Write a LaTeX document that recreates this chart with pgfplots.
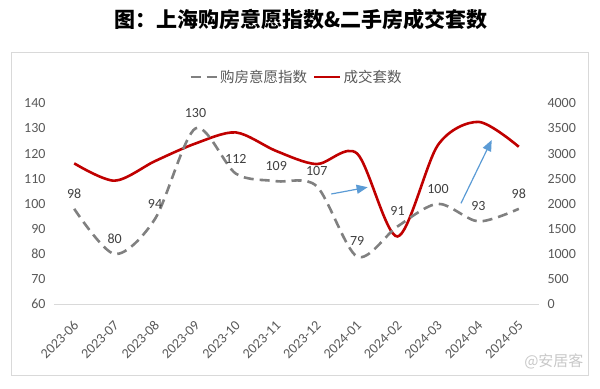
\documentclass[border=0pt]{standalone}
\usepackage{fontspec}
\setmainfont{Carlito}
\newfontfamily\cjk{Noto Sans CJK SC}
\usepackage{pgfplots}
\pgfplotsset{compat=1.18}
\usetikzlibrary{arrows.meta}
\definecolor{cred}{HTML}{C00000}
\definecolor{cgray}{HTML}{808080}
\definecolor{ctick}{HTML}{595959}
\definecolor{clabel}{HTML}{404040}
\definecolor{cgrid}{HTML}{D9D9D9}
\definecolor{cbox}{HTML}{D9D9D9}
\definecolor{carrow}{HTML}{5B9BD5}
\definecolor{cwm}{HTML}{C8C8C8}
\begin{document}
\begin{tikzpicture}
\useasboundingbox (-54bp,-84.7bp) rectangle (546bp,304.3bp);
\draw[cbox, line width=1bp] (-42.3bp,-70.7bp) rectangle (534bp,251.3bp);
\node[font=\cjk\bfseries\fontsize{21bp}{25bp}\selectfont, text=black] at (247bp,284.3bp) {图：上海购房意愿指数\&二手房成交套数};
\node[font=\cjk\fontsize{15bp}{17bp}\selectfont, text=cwm, anchor=east] at (533bp,-56.7bp) {@安居客};

\begin{axis}[
  scale only axis, width=485bp, height=201bp, at={(0,0)}, anchor=south west,
  xmin=-0.5, xmax=11.5, ymin=0, ymax=4000,
  axis y line*=right, axis x line=none,
  y axis line style={draw=none},
  ytick={0,500,...,4000},
  major tick length=0pt,
  yticklabel style={font=\fontsize{14bp}{16bp}\selectfont, text=ctick, xshift=5bp},
  /pgf/number format/assume math mode=true,
  /pgf/number format/set thousands separator={},
]
\addplot[cred, line width=2.6bp, smooth] coordinates {
(0,2805) (1,2460) (2,2850) (3,3200) (4,3420) (5,3050) (6,2790) (7,3000) (8,1350) (9,3170) (10,3630) (11,3135)
};
\end{axis}

\begin{axis}[
  scale only axis, width=485bp, height=201bp, at={(0,0)}, anchor=south west,
  xmin=-0.5, xmax=11.5, ymin=60, ymax=140,
  axis y line*=left, axis x line*=bottom,
  y axis line style={draw=none},
  x axis line style={cgrid, line width=1bp, -},
  ytick={60,70,...,140},
  xtick={0,...,11},
  xticklabels={2023-06,2023-07,2023-08,2023-09,2023-10,2023-11,2023-12,2024-01,2024-02,2024-03,2024-04,2024-05},
  major tick length=0pt,
  yticklabel style={font=\fontsize{14bp}{16bp}\selectfont, text=ctick, xshift=-5bp},
  xticklabel style={font=\fontsize{14bp}{16bp}\selectfont, text=ctick, yshift=-19bp, xshift=2bp, rotate=45, anchor=east, inner sep=0pt},
  /pgf/number format/assume math mode=true,
  legend style={at={(0.5,1.131)}, anchor=center, draw=none, fill=none, legend columns=2,
    font=\cjk\fontsize{14.5bp}{17bp}\selectfont, text=ctick,
    /tikz/every even column/.append style={column sep=4bp}},
  legend image code/.code={\draw[#1] (0bp,0bp) -- (26bp,0bp);},
]
\addplot[cgray, line width=2.6bp, dash pattern=on 10bp off 6bp, smooth,
  nodes near coords,
  every node near coord/.append style={font=\fontsize{14bp}{16bp}\selectfont, text=clabel, yshift=6bp, solid}]
  coordinates {
(0,98) (1,80) (2,94) (3,130) (4,112) (5,109) (6,107) (7,79) (8,91) (9,100) (10,93) (11,98)
};
\addlegendentry{购房意愿指数}
\addlegendimage{cred, line width=2.6bp}
\addlegendentry{成交套数}
\draw[carrow, line width=1.2bp, -{Triangle[length=11bp,width=9bp]}] (axis cs:6.36,103.9) -- (axis cs:7.26,106.6);
\draw[carrow, line width=1.2bp, -{Triangle[length=11bp,width=9bp]}] (axis cs:9.57,100.2) -- (axis cs:10.33,125.4);
\end{axis}
\end{tikzpicture}
\end{document}
